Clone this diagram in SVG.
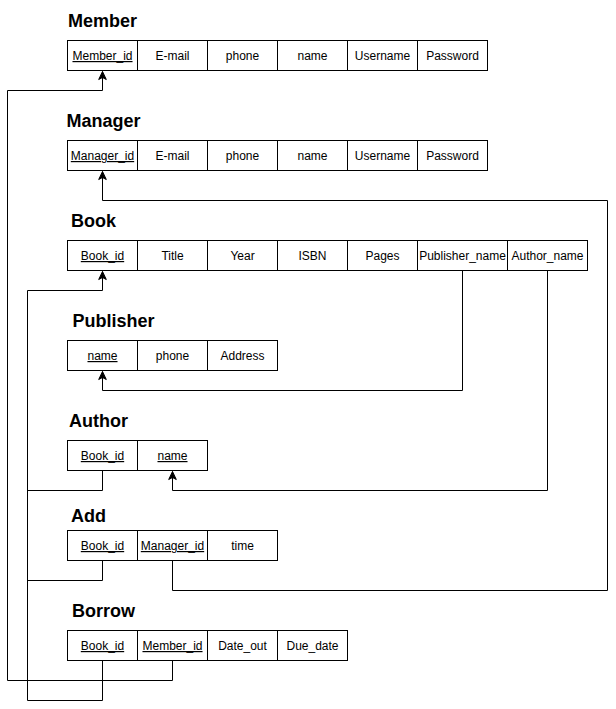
<svg xmlns="http://www.w3.org/2000/svg" width="616" height="709" viewBox="0 0 616 709">
<defs>
<style>
.cell{fill:#fff;stroke:#000;stroke-width:1}
.t{font-family:"Liberation Sans",Arial,Helvetica,sans-serif;font-size:12px;fill:#000;text-anchor:middle}
.k{text-decoration:underline}
.h{font-family:"Liberation Sans",Arial,Helvetica,sans-serif;font-size:18px;font-weight:bold;fill:#000}
.c{fill:none;stroke:#000;stroke-width:1}
</style>
<marker id="arr" markerUnits="userSpaceOnUse" markerWidth="12" markerHeight="12" viewBox="0 0 12 12" refX="9" refY="6" orient="auto">
<path d="M1,2.2 L9,6 L1,9.8 L3,6 Z" fill="#000" stroke="#000" stroke-width="1"/>
</marker>
</defs>
<rect width="616" height="709" fill="#fff"/>

<g id="connectors">
<path class="c" d="M172.5,660.5 V680.5 H7.5 V90.5 H102.5 V71.5" marker-end="url(#arr)"/>
<path class="c" d="M102.5,660.5 V700.5 H27.5 V290.5 H102.5 V271.5" marker-end="url(#arr)"/>
<path class="c" d="M102.5,560.5 V580.5 H27.5"/>
<path class="c" d="M102.5,470.5 V490.5 H27.5"/>
<path class="c" d="M172.5,560.5 V590.5 H607.5 V200.5 H102.5 V171.5" marker-end="url(#arr)"/>
<path class="c" d="M462.5,270.5 V390.5 H102.5 V371.5" marker-end="url(#arr)"/>
<path class="c" d="M547.5,270.5 V490.5 H172.5 V471.5" marker-end="url(#arr)"/>
</g>

<g id="member">
<text class="h" x="68" y="27.3">Member</text>
<rect class="cell" x="67.5" y="40.5" width="70" height="30"/>
<rect class="cell" x="137.5" y="40.5" width="70" height="30"/>
<rect class="cell" x="207.5" y="40.5" width="70" height="30"/>
<rect class="cell" x="277.5" y="40.5" width="70" height="30"/>
<rect class="cell" x="347.5" y="40.5" width="70" height="30"/>
<rect class="cell" x="417.5" y="40.5" width="70" height="30"/>
<text class="t k" x="102.5" y="60">Member_id</text>
<text class="t" x="172.5" y="60">E-mail</text>
<text class="t" x="242.5" y="60">phone</text>
<text class="t" x="312.5" y="60">name</text>
<text class="t" x="382.5" y="60">Username</text>
<text class="t" x="452.5" y="60">Password</text>
</g>

<g id="manager">
<text class="h" x="66.5" y="127.3">Manager</text>
<rect class="cell" x="67.5" y="140.5" width="70" height="30"/>
<rect class="cell" x="137.5" y="140.5" width="70" height="30"/>
<rect class="cell" x="207.5" y="140.5" width="70" height="30"/>
<rect class="cell" x="277.5" y="140.5" width="70" height="30"/>
<rect class="cell" x="347.5" y="140.5" width="70" height="30"/>
<rect class="cell" x="417.5" y="140.5" width="70" height="30"/>
<text class="t k" x="102.5" y="160">Manager_id</text>
<text class="t" x="172.5" y="160">E-mail</text>
<text class="t" x="242.5" y="160">phone</text>
<text class="t" x="312.5" y="160">name</text>
<text class="t" x="382.5" y="160">Username</text>
<text class="t" x="452.5" y="160">Password</text>
</g>

<g id="book">
<text class="h" x="71" y="227.3">Book</text>
<rect class="cell" x="67.5" y="240.5" width="70" height="30"/>
<rect class="cell" x="137.5" y="240.5" width="70" height="30"/>
<rect class="cell" x="207.5" y="240.5" width="70" height="30"/>
<rect class="cell" x="277.5" y="240.5" width="70" height="30"/>
<rect class="cell" x="347.5" y="240.5" width="70" height="30"/>
<rect class="cell" x="417.5" y="240.5" width="90" height="30"/>
<rect class="cell" x="507.5" y="240.5" width="80" height="30"/>
<text class="t k" x="102.5" y="260">Book_id</text>
<text class="t" x="172.5" y="260">Title</text>
<text class="t" x="242.5" y="260">Year</text>
<text class="t" x="312.5" y="260">ISBN</text>
<text class="t" x="382.5" y="260">Pages</text>
<text class="t" x="462.5" y="260">Publisher_name</text>
<text class="t" x="547.5" y="260">Author_name</text>
</g>

<g id="publisher">
<text class="h" x="72.5" y="327.3">Publisher</text>
<rect class="cell" x="67.5" y="340.5" width="70" height="30"/>
<rect class="cell" x="137.5" y="340.5" width="70" height="30"/>
<rect class="cell" x="207.5" y="340.5" width="70" height="30"/>
<text class="t k" x="102.5" y="360">name</text>
<text class="t" x="172.5" y="360">phone</text>
<text class="t" x="242.5" y="360">Address</text>
</g>

<g id="author">
<text class="h" x="69" y="427.3">Author</text>
<rect class="cell" x="67.5" y="440.5" width="70" height="30"/>
<rect class="cell" x="137.5" y="440.5" width="70" height="30"/>
<text class="t k" x="102.5" y="460">Book_id</text>
<text class="t k" x="172.5" y="460">name</text>
</g>

<g id="add">
<text class="h" x="71" y="522.3">Add</text>
<rect class="cell" x="67.5" y="530.5" width="70" height="30"/>
<rect class="cell" x="137.5" y="530.5" width="70" height="30"/>
<rect class="cell" x="207.5" y="530.5" width="70" height="30"/>
<text class="t k" x="102.5" y="550">Book_id</text>
<text class="t k" x="172.5" y="550">Manager_id</text>
<text class="t" x="242.5" y="550">time</text>
</g>

<g id="borrow">
<text class="h" x="72" y="617.3">Borrow</text>
<rect class="cell" x="67.5" y="630.5" width="70" height="30"/>
<rect class="cell" x="137.5" y="630.5" width="70" height="30"/>
<rect class="cell" x="207.5" y="630.5" width="70" height="30"/>
<rect class="cell" x="277.5" y="630.5" width="70" height="30"/>
<text class="t k" x="102.5" y="650">Book_id</text>
<text class="t k" x="172.5" y="650">Member_id</text>
<text class="t" x="242.5" y="650">Date_out</text>
<text class="t" x="312.5" y="650">Due_date</text>
</g>
</svg>
